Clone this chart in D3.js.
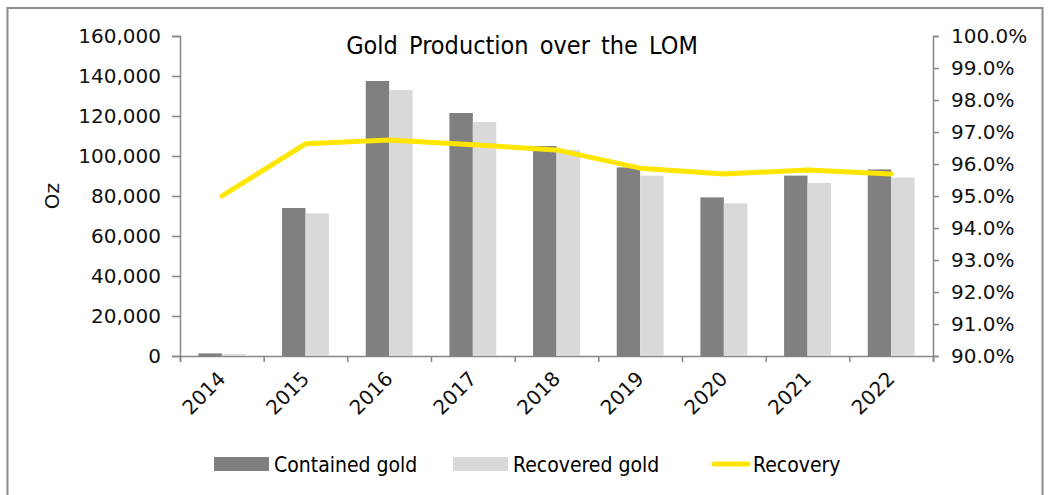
<!DOCTYPE html>
<html>
<head>
<meta charset="utf-8">
<script src="https://cdn.jsdelivr.net/npm/d3@7"></script>
<style>
    body { margin: 0; background: #fff; }
    .d3-axis path, .d3-axis line { stroke: #868686; stroke-width: 1.5px; }
    .d3-axis text { font-family: "DejaVu Sans", Verdana, sans-serif; font-size: 20px; fill: #111; }
</style>
</head>
<body>
<div id="chart"></div>
<script>
var years = ["2014", "2015", "2016", "2017", "2018", "2019", "2020", "2021", "2022"];
var containedGold = [1300, 74000, 137500, 121500, 105000, 94300, 79300, 90200, 93300];
var recoveredGold = [1000, 71300, 133000, 117000, 103000, 90200, 76300, 86500, 89200];
var recovery = [0.950, 0.9663, 0.9675, 0.9660, 0.9644, 0.9587, 0.9569, 0.9581, 0.9569];
var ozTicks = [0, 20000, 40000, 60000, 80000, 100000, 120000, 140000, 160000];
var pctTicks = [0.90, 0.91, 0.92, 0.93, 0.94, 0.95, 0.96, 0.97, 0.98, 0.99, 1.00];

var W = 1048, H = 495;
var plotL = 180, plotR = 933, plotT = 36, plotB = 356;

var svg = d3.select("#chart").append("svg")
    .attr("width", W)
    .attr("height", H);

// outer frame (bottom edge falls outside the picture)
svg.append("rect")
    .attr("x", 7.5).attr("y", 8)
    .attr("width", 1035).attr("height", 500)
    .attr("fill", "none")
    .attr("stroke", "#8c8c8c")
    .attr("stroke-width", 2);

var x = d3.scaleBand().domain(years).range([plotL, plotR]).padding(0);
var xIdx = d3.scaleLinear().domain([0, years.length]).range([plotL, plotR]);
var y = d3.scaleLinear().domain([0, 160000]).range([plotB, plotT]);
var y2 = d3.scaleLinear().domain([0.90, 1.00]).range([plotB, plotT]);

var groupW = x.bandwidth() * 0.56,
    barW = groupW / 2;

svg.append("g")
    .attr("class", "y d3-axis")
    .attr("transform", "translate(" + plotL + ",0)")
    .call(d3.axisLeft(y).tickValues(ozTicks).tickFormat(d3.format(",")).tickSize(8).tickPadding(11));

svg.append("g")
    .attr("class", "y2 d3-axis")
    .attr("transform", "translate(" + plotR + ",0)")
    .call(d3.axisRight(y2).tickValues(pctTicks).tickFormat(d3.format(".1%")).tickSize(6).tickPadding(12));

svg.append("g")
    .attr("class", "x d3-axis")
    .attr("transform", "translate(0," + plotB + ")")
    .call(d3.axisBottom(xIdx).tickValues(d3.range(years.length + 1)).tickFormat("").tickSize(6));

// x labels, rotated
svg.selectAll(".year-label")
    .data(years)
    .enter().append("text")
    .attr("class", "year-label")
    .attr("transform", function(d) {
        return "translate(" + (x(d) + x.bandwidth() / 2 - 5) + "," + (plotB + 14) + ") rotate(-45)";
    })
    .attr("text-anchor", "end")
    .attr("dy", "0.7em")
    .style("font-family", "DejaVu Sans, Verdana, sans-serif")
    .style("font-size", "20px")
    .style("fill", "#111")
    .text(function(d) { return d; });

// y title
svg.append("text")
    .attr("transform", "translate(52,196) rotate(-90)")
    .attr("text-anchor", "middle")
    .attr("dy", "0.35em")
    .style("font-family", "DejaVu Sans, Verdana, sans-serif")
    .style("font-size", "20px")
    .style("fill", "#111")
    .text("Oz");

// bars
svg.selectAll(".bar-contained")
    .data(containedGold)
    .enter().append("rect")
    .attr("class", "bar-contained")
    .attr("x", function(d, i) { return x(years[i]) + (x.bandwidth() - groupW) / 2; })
    .attr("width", barW)
    .attr("y", function(d) { return y(d); })
    .attr("height", function(d) { return plotB - y(d); })
    .style("fill", "#808080");

svg.selectAll(".bar-recovered")
    .data(recoveredGold)
    .enter().append("rect")
    .attr("class", "bar-recovered")
    .attr("x", function(d, i) { return x(years[i]) + (x.bandwidth() - groupW) / 2 + barW; })
    .attr("width", barW)
    .attr("y", function(d) { return y(d); })
    .attr("height", function(d) { return plotB - y(d); })
    .style("fill", "#d9d9d9");

// recovery line
var line = d3.line()
    .x(function(d, i) { return x(years[i]) + x.bandwidth() / 2; })
    .y(function(d) { return y2(d); });

svg.append("path")
    .attr("d", line(recovery))
    .attr("fill", "none")
    .attr("stroke", "#ffe600")
    .attr("stroke-width", 5)
    .attr("stroke-linejoin", "round")
    .attr("stroke-linecap", "round");

// title
svg.append("text")
    .attr("x", 522)
    .attr("y", 54)
    .attr("text-anchor", "middle")
    .style("font-family", "DejaVu Sans Condensed, DejaVu Sans, sans-serif")
    .style("font-stretch", "condensed")
    .style("font-size", "25px")
    .style("word-spacing", "4px")
    .style("fill", "#000")
    .text("Gold Production over the LOM");

// legend
var legend = [
    {name: "Contained gold", type: "rect", color: "#808080", x: 214},
    {name: "Recovered gold", type: "rect", color: "#d9d9d9", x: 453},
    {name: "Recovery", type: "line", color: "#ffe600", x: 712}
];

var lg = svg.selectAll(".legend")
    .data(legend)
    .enter().append("g")
    .attr("class", "legend")
    .attr("transform", function(d) { return "translate(" + d.x + ",464)"; });

lg.filter(function(d) { return d.type === "rect"; })
    .append("rect")
    .attr("x", 0).attr("y", -7)
    .attr("width", 55).attr("height", 14)
    .style("fill", function(d) { return d.color; });

lg.filter(function(d) { return d.type === "line"; })
    .append("line")
    .attr("x1", 2).attr("x2", 36)
    .attr("y1", 0).attr("y2", 0)
    .attr("stroke", function(d) { return d.color; })
    .attr("stroke-width", 5)
    .attr("stroke-linecap", "round");

lg.append("text")
    .attr("x", function(d) { return d.type === "rect" ? 60 : 41; })
    .attr("y", 8)
    .style("font-family", "DejaVu Sans Condensed, DejaVu Sans, sans-serif")
    .style("font-stretch", "condensed")
    .style("font-size", "21px")
    .style("fill", "#000")
    .text(function(d) { return d.name; });
</script>
</body>
</html>
